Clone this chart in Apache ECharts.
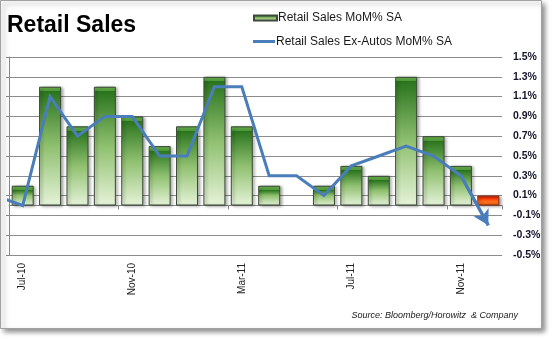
<!DOCTYPE html>
<html>
<head>
<meta charset="utf-8">
<script src="https://cdn.jsdelivr.net/npm/echarts@6/dist/echarts.min.js"></script>
<style>
  html, body { margin: 0; padding: 0; background: #ffffff; }
  #chart { width: 552px; height: 339px; }
</style>
</head>
<body>
<div id="chart"></div>
<script>
// ---- data ----
const months = ['Jul-10','Aug-10','Sep-10','Oct-10','Nov-10','Dec-10','Jan-11','Feb-11','Mar-11',
                'Apr-11','May-11','Jun-11','Jul-11','Aug-11','Sep-11','Oct-11','Nov-11','Dec-11'];
const retailSales = [0.2, 1.2, 0.8, 1.2, 0.9, 0.6, 0.8, 1.3, 0.8, 0.2, 0.0, 0.2, 0.4, 0.3, 1.3, 0.7, 0.4, 0.1];
const exAutos     = [0.0, 1.1, 0.7, 0.9, 0.9, 0.5, 0.5, 1.2, 1.2, 0.3, 0.3, 0.1, 0.4, 0.5, 0.6, 0.5, 0.3, -0.2];
const exAutosPrior = 0.1;          // Jun-10 point, lies just off the left edge (clipped)
const yMin = -0.5, yMax = 1.5, yStep = 0.2;
const highlightMonth = 'Dec-11';   // bar drawn in red

const seriesNames = ['Retail Sales MoM% SA', 'Retail Sales Ex-Autos MoM% SA'];
const sourceText = 'Source: Bloomberg/Horowitz  & Company';
const titleText = 'Retail Sales';

const lineBlue = '#4a7ebb';
const FONT = 'Liberation Sans, Arial, sans-serif';

function greenGradient(v) {
  const b = Math.min(0.3, 0.045 / Math.max(v, 0.05));
  return new echarts.graphic.LinearGradient(0, 0, 0, 1, [
    { offset: 0, color: '#1d5a15' },
    { offset: b * 0.3, color: '#6cb54f' },
    { offset: b, color: '#4d9a38' },
    { offset: b * 1.02, color: '#2a741e' },
    { offset: 0.5, color: '#8fc06f' },
    { offset: 1, color: '#e6f3d9' }
  ]);
}
function redGradient() {
  return new echarts.graphic.LinearGradient(0, 0, 0, 1, [
    { offset: 0, color: '#c41a00' },
    { offset: 0.3, color: '#ff3a0c' },
    { offset: 0.6, color: '#ff6f1c' },
    { offset: 1, color: '#e85a12' }
  ]);
}

const barData = retailSales.map((v, i) => {
  const item = { value: v };
  if (months[i] === highlightMonth) {
    item.itemStyle = { color: redGradient(), borderColor: '#8a2a10' };
  } else if (v === 0) {
    item.itemStyle = { borderWidth: 0, shadowBlur: 0, shadowOffsetX: 0, shadowOffsetY: 0, shadowColor: 'transparent' };
  } else {
    item.itemStyle = { color: greenGradient(v) };
  }
  return item;
});

const lineData = [[-1, exAutosPrior]].concat(exAutos.map((v, i) => [i, v]));
const last = exAutos.length - 1;

const chart = echarts.init(document.getElementById('chart'), null, { renderer: 'canvas' });
chart.setOption({
  animation: false,
  backgroundColor: 'transparent',
  graphic: [
    {
      type: 'rect', z: -10, silent: true,
      shape: { x: 0.5, y: 0.5, width: 541, height: 328 },
      style: { fill: '#ffffff', stroke: '#a0a0a0', lineWidth: 1,
               shadowBlur: 5, shadowOffsetX: 3, shadowOffsetY: 3, shadowColor: 'rgba(0,0,0,0.45)' }
    },
    {
      type: 'text', left: 7, top: 14, z: 10,
      style: { text: titleText, font: 'bold 23px ' + FONT, fill: '#000000' }
    },
    {
      type: 'text', right: 34, top: 311, z: 10,
      style: { text: sourceText, font: 'italic 9px ' + FONT, fill: '#1a1a1a' }
    }
  ],
  legend: [
    {
      data: [{ name: seriesNames[0], icon: 'rect' }],
      left: 253, top: 12, padding: 0,
      itemWidth: 23, itemHeight: 5,
      textStyle: { fontFamily: FONT, fontSize: 12, color: '#1a1a1a', padding: [0, 0, 0, -4] },
      selectedMode: false
    },
    {
      data: [{ name: seriesNames[1], icon: 'rect' }],
      left: 253, top: 35.5, padding: 0,
      itemWidth: 22, itemHeight: 3,
      itemStyle: { color: lineBlue, borderWidth: 0 },
      textStyle: { fontFamily: FONT, fontSize: 12, color: '#1a1a1a', padding: [0, 0, 0, -4] },
      selectedMode: false
    }
  ],
  grid: { left: 9, right: 50, top: 57, bottom: 84, containLabel: false },
  xAxis: [
    {
      type: 'category', data: months, gridIndex: 0,
      axisLine: { show: true, onZero: true, lineStyle: { color: '#868686', width: 1 } },
      axisTick: { show: true, interval: 3, length: 4, lineStyle: { color: '#868686' } },
      axisLabel: { show: false },
      splitLine: { show: false }
    },
    {
      type: 'category', data: months, gridIndex: 0, position: 'bottom',
      axisLine: { show: false, onZero: false },
      axisTick: { show: false },
      axisLabel: { show: true, interval: 3, rotate: 90, margin: 8,
                   fontFamily: FONT, fontSize: 10, color: '#222222' },
      splitLine: { show: false }
    },
    {
      type: 'value', gridIndex: 0, min: -0.5, max: months.length - 0.5, show: false,
      axisLine: { onZero: false }, splitLine: { show: false }
    }
  ],
  yAxis: [
    {
      type: 'value', position: 'left', min: yMin, max: yMax, interval: yStep,
      axisLine: { show: true, onZero: false, lineStyle: { color: '#868686' } },
      axisTick: { show: true, length: 3, lineStyle: { color: '#868686' } },
      axisLabel: { show: false },
      splitLine: { show: true, lineStyle: { color: '#8c8c8c', width: 1 } }
    },
    {
      type: 'value', position: 'right', min: yMin, max: yMax, interval: yStep,
      axisLine: { show: false, onZero: false },
      axisTick: { show: false },
      splitLine: { show: false },
      axisLabel: {
        show: true, margin: 11, fontFamily: FONT, fontSize: 10.5, fontWeight: 'bold', color: '#14142a',
        formatter: v => v.toFixed(1) + '%'
      }
    }
  ],
  series: [
    {
      name: seriesNames[0], type: 'bar', xAxisIndex: 0, yAxisIndex: 0,
      data: barData, barWidth: 22,
      itemStyle: {
        color: greenGradient(0.6), borderColor: '#3c4a38', borderWidth: 1,
        shadowColor: 'rgba(0,0,0,0.35)', shadowBlur: 3, shadowOffsetX: 2, shadowOffsetY: 1
      }
    },
    {
      name: seriesNames[1], type: 'line', xAxisIndex: 2, yAxisIndex: 0,
      data: lineData, clip: true, symbol: 'none', showSymbol: false,
      lineStyle: { color: lineBlue, width: 3, join: 'miter', cap: 'butt' },
      itemStyle: { color: lineBlue },
      z: 5,
      markLine: {
        silent: true, animation: false,
        symbol: ['none', 'arrow'], symbolSize: [13, 15],
        label: { show: false },
        lineStyle: { color: lineBlue, width: 3, type: 'solid' },
        data: [[ { coord: [last - 1, exAutos[last - 1]] }, { coord: [last, exAutos[last]] } ]]
      }
    }
  ]
});
</script>
</body>
</html>
